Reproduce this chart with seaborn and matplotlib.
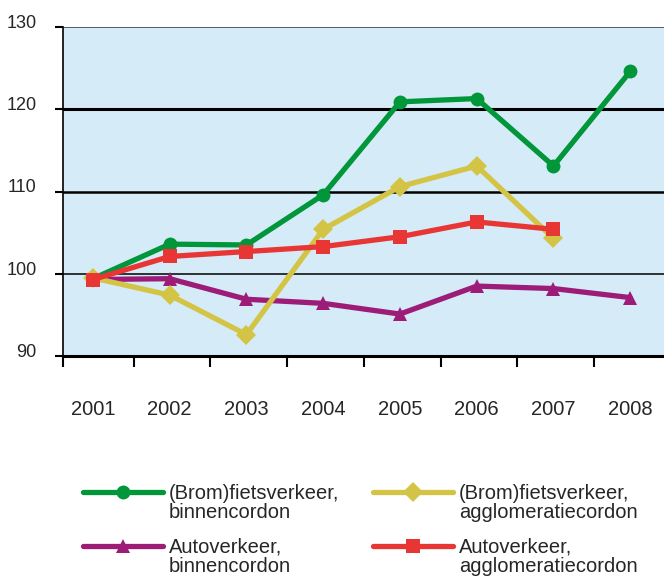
import matplotlib
matplotlib.use("Agg")
import matplotlib.pyplot as plt
import matplotlib.transforms as mtransforms
import seaborn as sns
import pandas as pd

years = ["2001", "2002", "2003", "2004", "2005", "2006", "2007", "2008"]

fiets_binnen = [99.4, 103.6, 103.5, 109.6, 120.9, 121.3, 113.1, 124.6]
auto_binnen = [99.3, 99.4, 96.9, 96.4, 95.1, 98.5, 98.2, 97.1]
fiets_agglo = [99.5, 97.4, 92.6, 105.4, 110.6, 113.1, 104.3]
auto_agglo = [99.3, 102.1, 102.7, 103.3, 104.5, 106.3, 105.4]

# (first line, second line, values, colour, marker)
series = [
    ("(Brom)fietsverkeer,", "binnencordon", fiets_binnen, "#009639", "o"),
    ("Autoverkeer,", "binnencordon", auto_binnen, "#9c1c78", "^"),
    ("(Brom)fietsverkeer,", "agglomeratiecordon", fiets_agglo, "#d4c445", "D"),
    ("Autoverkeer,", "agglomeratiecordon", auto_agglo, "#e73634", "s"),
]

sns.set_style("white")
plt.rcParams["font.family"] = ["Liberation Sans", "DejaVu Sans"]

fig = plt.figure(figsize=(6.64, 5.78), dpi=100)
ax = fig.add_axes([63 / 664, (578 - 356) / 578, 1 - 63 / 664, (356 - 27) / 578])
ax.set_facecolor("#d5ebf8")

# horizontal rules, not all the same weight
ax.axhline(130, color="#444444", lw=1.2, zorder=1)
ax.axhline(120, color="black", lw=2.2, zorder=1)
ax.axhline(110, color="black", lw=1.8, zorder=1)
ax.axhline(100, color="black", lw=1.1, zorder=1)

for first, second, vals, color, marker in series:
    df = pd.DataFrame({"x": range(len(vals)), "y": vals})
    sns.lineplot(data=df, x="x", y="y", ax=ax, color=color, lw=3.8,
                 marker=marker, markersize=10, markeredgewidth=0,
                 label=first, zorder=3)

ax.set_xlim(-0.39, 7.44)
ax.set_ylim(90, 130)
ax.set_xlabel("")
ax.set_ylabel("")

for side in ["top", "right"]:
    ax.spines[side].set_visible(False)
ax.spines["left"].set_linewidth(1.2)
ax.spines["left"].set_color("black")
ax.spines["bottom"].set_linewidth(2.2)
ax.spines["bottom"].set_color("black")

ax.set_xticks(range(len(years)), years)
ax.set_xticks([-0.39] + [i + 0.53 for i in range(7)], minor=True)
ax.tick_params(axis="x", which="major", length=0, pad=32, labelsize=14.5)
ax.tick_params(axis="x", which="minor", length=8, width=1.5, color="black",
               direction="out", bottom=True)

ax.set_yticks([90, 100, 110, 120, 130])
ax.tick_params(axis="y", length=6, width=1.5, color="black", direction="out",
               left=True, pad=13, labelsize=13)
offset = mtransforms.ScaledTranslation(0, 4 / 72, fig.dpi_scale_trans)
for lab in ax.get_yticklabels():
    lab.set_transform(lab.get_transform() + offset)

ax.get_legend().remove()
handles, labels = ax.get_legend_handles_labels()
leg = fig.legend(handles, labels, loc="upper left",
                 bbox_to_anchor=(83 / 664, 1 - 484 / 578),
                 ncol=2, frameon=False, fontsize=14.5, handlelength=3.95,
                 handletextpad=0.3, columnspacing=1.7, labelspacing=1.72,
                 borderaxespad=0, borderpad=0)

# second line of each legend label, placed under the first
fig.canvas.draw()
for txt, (_, second, _, _, _) in zip(leg.get_texts(), series):
    bb = txt.get_window_extent()
    fig.text(bb.x0 / 664, (bb.y0 - 19.5) / 578, second, ha="left", va="bottom",
             fontsize=14.5)

fig.savefig("out.png", dpi=100)
